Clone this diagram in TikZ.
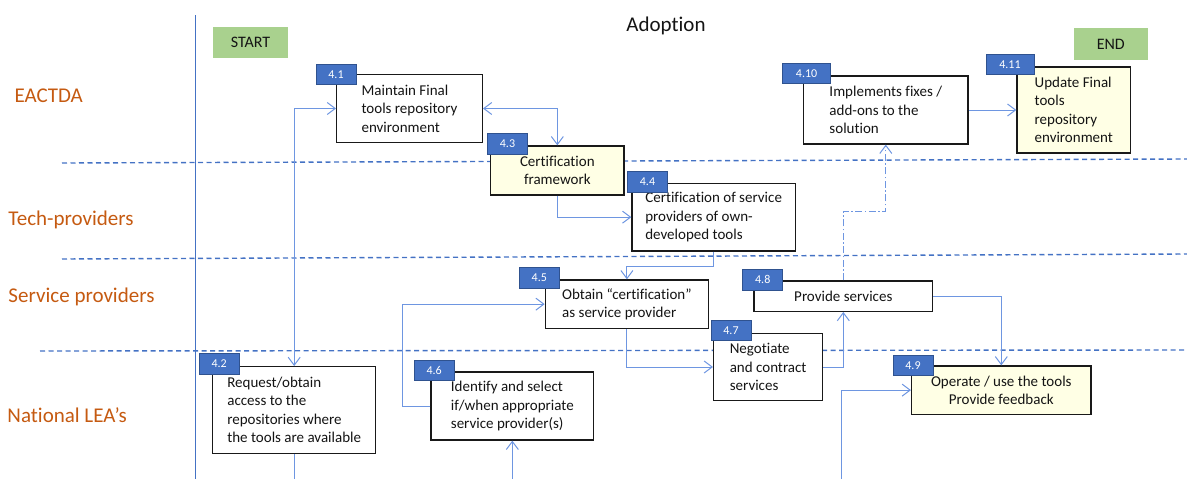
\documentclass[tikz,border=0pt]{standalone}
\usepackage{fontspec}
\setmainfont{Carlito}[Ligatures=NoCommon, RawFeature={-liga;-clig;-dlig}]
\usetikzlibrary{arrows.meta}
\definecolor{connblue}{RGB}{110,150,225}
\definecolor{laneblue}{RGB}{68,114,196}
\definecolor{tagfill}{RGB}{68,114,196}
\definecolor{tagdraw}{RGB}{47,82,143}
\definecolor{lanetext}{RGB}{197,90,17}
\definecolor{startgreen}{RGB}{169,209,142}
\definecolor{paleyellow}{RGB}{255,255,229}
\definecolor{boxtext}{RGB}{20,20,20}
\begin{document}
\begin{tikzpicture}[x=1pt,y=-1pt,
  procbox/.style={draw=black!90, line width=1.3pt, fill=white, align=left, inner sep=0pt,
    font=\fontsize{15}{18.4}\selectfont, text=boxtext},
  numtag/.style={draw=tagdraw, fill=tagfill, line width=0.8pt, text=white,
    font=\fontsize{12}{14}\selectfont, inner sep=0pt, minimum height=20.5pt, minimum width=40pt},
  termbox/.style={fill=startgreen, inner sep=0pt, text=boxtext, font=\fontsize{16}{19}\selectfont},
  lanelabel/.style={text=lanetext, inner sep=0pt, anchor=base west, font=\fontsize{21}{25}\selectfont},
  laneline/.style={draw=laneblue, line width=1.4pt, dash pattern=on 5pt off 3.5pt},
  link/.style={draw=connblue, line width=1pt, -{Straight Barb[length=8pt,width=12pt]}},
  linkboth/.style={draw=connblue, line width=1pt, {Straight Barb[length=8pt,width=12pt]}-{Straight Barb[length=8pt,width=12pt]}},
  linkplain/.style={draw=connblue, line width=1pt},
  linkdashdot/.style={draw=connblue, line width=1pt, dash pattern=on 7pt off 2.5pt on 1.5pt off 2.5pt, -{Straight Barb[length=8pt,width=12pt]}}
]
\useasboundingbox (0,0) rectangle (1187,479);

% lane separators
\draw[laneline] (62,163) -- (1187,159);
\draw[laneline] (62,259) -- (1187,254);
\draw[laneline] (40,351) -- (1187,350);
\draw[draw=laneblue, line width=0.9pt] (195,15) -- (195,479);

% lane labels
\node[lanelabel] (laneA) at (14.3,102.7) {EACTDA};
\node[lanelabel] (laneB) at (8.3,225.7) {Tech-providers};
\node[lanelabel] (laneC) at (8.3,302.3) {Service providers};
\node[lanelabel] (laneD) at (7.3,422.7) {National LEA’s};

% title
\node[inner sep=0pt, text=boxtext, font=\fontsize{21}{25}\selectfont] (title) at (666,25.5) {Adoption};

% start / end
\node[termbox, minimum width=75pt, minimum height=31pt] (start) at (250.5,42.5) {START};
\node[termbox, minimum width=74.4pt, minimum height=32pt] (end) at (1110.8,44) {END};

% process boxes
\node[procbox, minimum width=145.6pt, minimum height=67.6pt] (b41) at (409.5,108.5) {Maintain Final\\tools repository\\environment};
\node[procbox, fill=paleyellow, align=center, minimum width=133.3pt, minimum height=49pt] (b43) at (557.35,170.5) {Certification\\framework};
\node[procbox, minimum width=163.3pt, minimum height=67.7pt] (b44) at (713.65,217.15) {Certification of service\\providers of own-\\developed tools};
\node[procbox, minimum width=163.2pt, minimum height=48.3pt] (b45) at (626.9,304.15) {Obtain “certification”\\as service provider};
\node[procbox, minimum width=109.1pt, minimum height=67.4pt] (b47) at (768.15,367) {Negotiate\\and contract\\services};
\node[procbox, align=center, minimum width=178.6pt, minimum height=30.3pt] (b48) at (843.3,296.15) {Provide services};
\node[procbox, fill=paleyellow, align=center, minimum width=179.4pt, minimum height=48.3pt] (b49) at (1001.3,390.15) {Operate / use the tools\\Provide feedback};
\node[procbox, minimum width=163pt, minimum height=86.6pt] (b42) at (294.2,410) {Request/obtain\\access to the\\repositories where\\the tools are available};
\node[procbox, minimum width=162.7pt, minimum height=68pt] (b46) at (512.35,406) {Identify and select\\if/when appropriate\\service provider(s)};
\node[procbox, minimum width=164.4pt, minimum height=68pt] (b410) at (885.8,110) {Implements fixes /\\add-ons to the\\solution};
\node[procbox, fill=paleyellow, minimum width=113.6pt, minimum height=86pt] (b411) at (1073.8,110) {Update Final\\tools\\repository\\environment};

% number tags
\node[numtag] (t41) at (336,74.2) {4.1};
\node[numtag] (t43) at (507.5,143.9) {4.3};
\node[numtag] (t44) at (647.5,181.7) {4.4};
\node[numtag] (t45) at (539.3,277.7) {4.5};
\node[numtag] (t48) at (762.75,279.65) {4.8};
\node[numtag] (t47) at (731,330.35) {4.7};
\node[numtag] (t49) at (913,365.35) {4.9};
\node[numtag] (t42) at (219.15,364) {4.2};
\node[numtag] (t46) at (434.15,370.35) {4.6};
\node[numtag, minimum width=48pt] (t410) at (806.6,73.5) {4.10};
\node[numtag, minimum width=48pt] (t411) at (1010,64.5) {4.11};

% free ends at the bottom edge
\coordinate (s42) at (294.2,479);
\coordinate (s46) at (512.35,479);
\coordinate (s49) at (841.8,479);

% connectors
\draw[linkboth] (b41.west) -| (b42.north);
\draw[linkboth] (b41.east) -| (b43.north);
\draw[link] (b43.south) |- (b44.west);
\draw[link] (b44.south) -- ++(0,15) -| (b45.north);
\draw[link] (b46.west) -- ++(-27.7,0) |- (b45.west);
\draw[link] (b45.south) |- (b47.west);
\draw[link] (b47.east) -| (b48.south);
\draw[link] (b48.east) -| (b49.north);
\draw[linkdashdot] (b48.north) -- ++(0,-69) -| (b410.south);
\draw[link] (b410.east) -- (b411.west);
\draw[linkplain] (b42.south) -- (s42);
\draw[link] (s46) -- (b46.south);
\draw[link] (s49) |- (b49.west);
\end{tikzpicture}
\end{document}
